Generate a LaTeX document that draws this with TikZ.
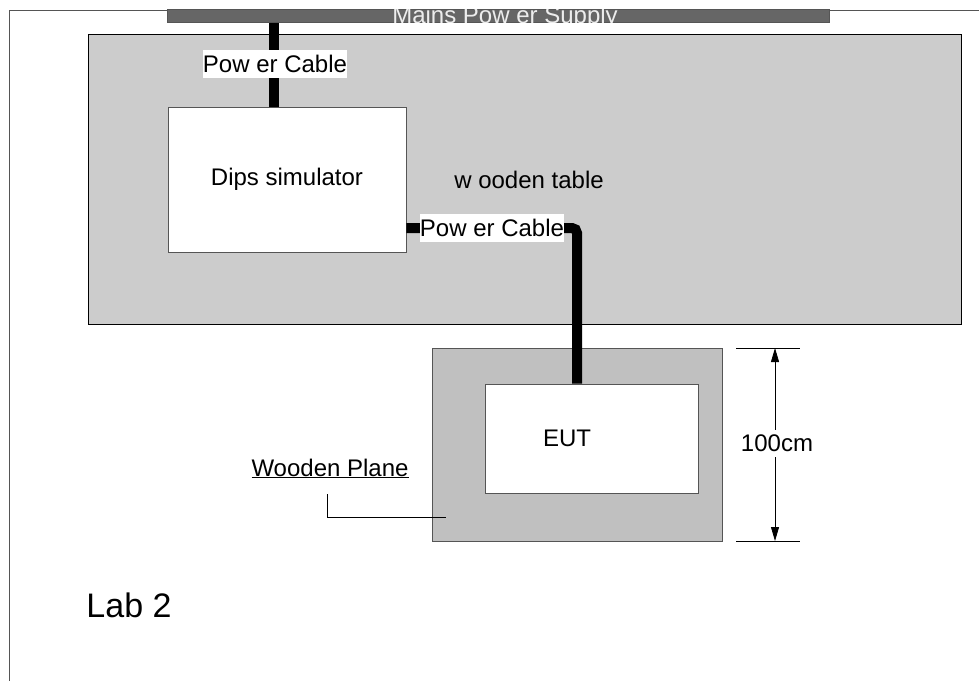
\documentclass[tikz,border=0pt]{standalone}
\usepackage{fontspec}
\setmainfont{Liberation Sans}
\usetikzlibrary{arrows.meta}
\definecolor{bargray}{HTML}{666666}
\definecolor{tablegray}{HTML}{CCCCCC}
\definecolor{planegray}{HTML}{C0C0C0}
\definecolor{edgegray}{HTML}{555555}
\begin{document}
\begin{tikzpicture}[x=1pt,y=-1pt,
  lbl/.style={font=\fontsize{24}{28}\selectfont, inner sep=0pt},
  whitebox/.style={draw=edgegray, fill=white, line width=0.8pt, inner sep=0pt},
  cablelbl/.style={lbl, fill=white, inner xsep=0pt, inner ysep=5pt},
  cable/.style={line width=10pt, black},
  frameline/.style={draw=edgegray, line width=1pt},
  dimline/.style={black, line width=0.8pt}]
\useasboundingbox (0,0) rectangle (979,681);
% frame
\draw[frameline] (979,10) -- (9,10) -- (9,681);
% table
\node[draw=black, fill=tablegray, line width=0.8pt, minimum width=873pt, minimum height=290pt, inner sep=0pt] (table) at (524.5,179) {};
% mains bar
\node[draw=edgegray, fill=bargray, line width=0.6pt, minimum width=662pt, minimum height=13pt, inner sep=0pt] (mains) at (498,16) {};
\begin{scope}
\clip (mains.north west) rectangle (mains.south east);
\node[lbl, text=white!93!black, anchor=base] (mainslbl) at (505,23.5) {Mains Pow er Supply};
\end{scope}
% boxes
\node[whitebox, lbl, minimum width=238pt, minimum height=145pt] (dips) at (287,179.5) {Dips simulator};
\node[lbl] (tablelbl) at (529,180) {w ooden table};
\node[draw=edgegray, fill=planegray, line width=0.8pt, minimum width=290pt, minimum height=193pt, inner sep=0pt] (plane) at (577,444.5) {};
\node[whitebox, lbl, minimum width=213pt, minimum height=109pt] (eut) at (591.5,438.5) {};
\node[lbl] (eutlbl) at (567,438) {EUT};
% cables
\draw[cable] ([xshift=-13.5pt]dips.north) -- ([xshift=-13.5pt]dips.north |- mains.south);
\node[cablelbl] (pc1) at (275,64) {Pow er Cable};
\draw[cable, rounded corners=5pt] (dips.east |- 0,228) -- (577,228) -- ([xshift=-14.5pt]eut.north);
\node[cablelbl] (pc2) at (492,228) {Pow er Cable};
% dimension
\coordinate (dt1) at (736,348); \coordinate (dt2) at (800,348);
\coordinate (db1) at (736,541); \coordinate (db2) at (800,541);
\draw[dimline] (dt1) -- (dt2);
\draw[dimline] (db1) -- (db2);
\draw[dimline, {Triangle[length=14pt,width=8pt]}-{Triangle[length=14pt,width=8pt]}] (775,348) -- (775,541);
\node[lbl, fill=white, inner ysep=5pt] (dimlbl) at (777,443) {100cm};
% wooden plane label
\node[lbl, anchor=base] (wplbl) at (330,476) {\underline{Wooden Plane}};
\coordinate (lead) at (446,517);
\draw[black, line width=0.6pt] (327,494) |- (lead);
% lab
\node[font=\fontsize{34}{40}\selectfont, inner sep=0pt] (lab) at (129,605) {Lab 2};
\end{tikzpicture}
\end{document}
